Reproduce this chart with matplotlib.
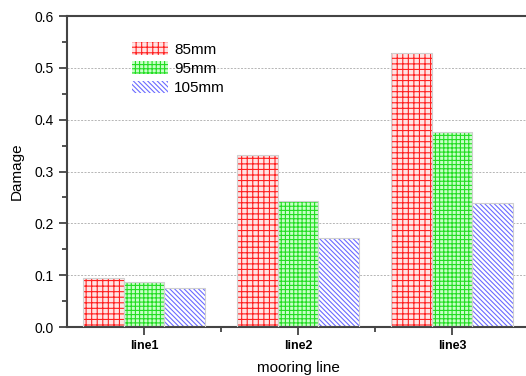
import matplotlib.pyplot as plt
import numpy as np

plt.rcParams['font.family'] = ['Liberation Sans', 'DejaVu Sans']
plt.rcParams['hatch.linewidth'] = 0.8

# data
lines = ['line1', 'line2', 'line3']
series = ['85mm', '95mm', '105mm']
d85 = [0.095, 0.331, 0.528]
d95 = [0.087, 0.244, 0.377]
d105 = [0.076, 0.171, 0.239]

styles = [
    dict(face='#ffe4e4', hatch='+++', col='#ff2020'),
    dict(face='#c8ffc8', hatch='++++', col='#22dd22'),
    dict(face='white', hatch='\\' * 7, col='#6a6aff'),
]

fig = plt.figure(figsize=(5.26, 3.76), dpi=100)
ax = fig.add_axes([0.1274, 0.1303, 0.8783, 0.827])

x = np.arange(1, len(lines) + 1)
w = 0.264
handles = []
for i, (vals, st) in enumerate(zip([d85, d95, d105], styles)):
    pos = x + (i - 1) * w
    b = ax.bar(pos, vals, w, color=st['face'], edgecolor=st['col'], hatch=st['hatch'],
               linewidth=0, zorder=2)
    ax.bar(pos, vals, w, fill=False, edgecolor='#cfcfcf', linewidth=0.8, zorder=3)
    handles.append(b)

ax.set_xlim(0.5, 3.5)
ax.set_ylim(0, 0.6)
ax.set_xticks(x)
ax.set_xticklabels(lines, fontsize=9, fontweight='bold')
ax.set_xticks([1.5, 2.5], minor=True)
ax.set_yticks(np.arange(0, 0.61, 0.1))
ax.set_yticklabels(['%.1f' % v for v in np.arange(0, 0.61, 0.1)], fontsize=10)
ax.set_yticks(np.arange(0.05, 0.6, 0.1), minor=True)
ax.tick_params(axis='both', which='major', direction='out', length=6, width=1.2, color='#333333')
ax.tick_params(axis='both', which='minor', direction='out', length=3.5, width=1.2, color='#333333')

ax.yaxis.grid(True, linestyle=(0, (2, 1.5)), color='#b5b5b5', linewidth=0.7, zorder=1)
ax.set_axisbelow(True)

for s in ax.spines.values():
    s.set_linewidth(1.5)
    s.set_color('#444444')

ax.set_xlabel('mooring line', fontsize=11, labelpad=6)
ax.set_ylabel('Damage', fontsize=11, labelpad=8)

leg = ax.legend(handles, series, loc='upper left', bbox_to_anchor=(0.11, 0.96), frameon=False,
                fontsize=11, handlelength=2.4, handleheight=0.9, labelspacing=0.3, handletextpad=0.4)

fig.savefig('out.png', dpi=100)
